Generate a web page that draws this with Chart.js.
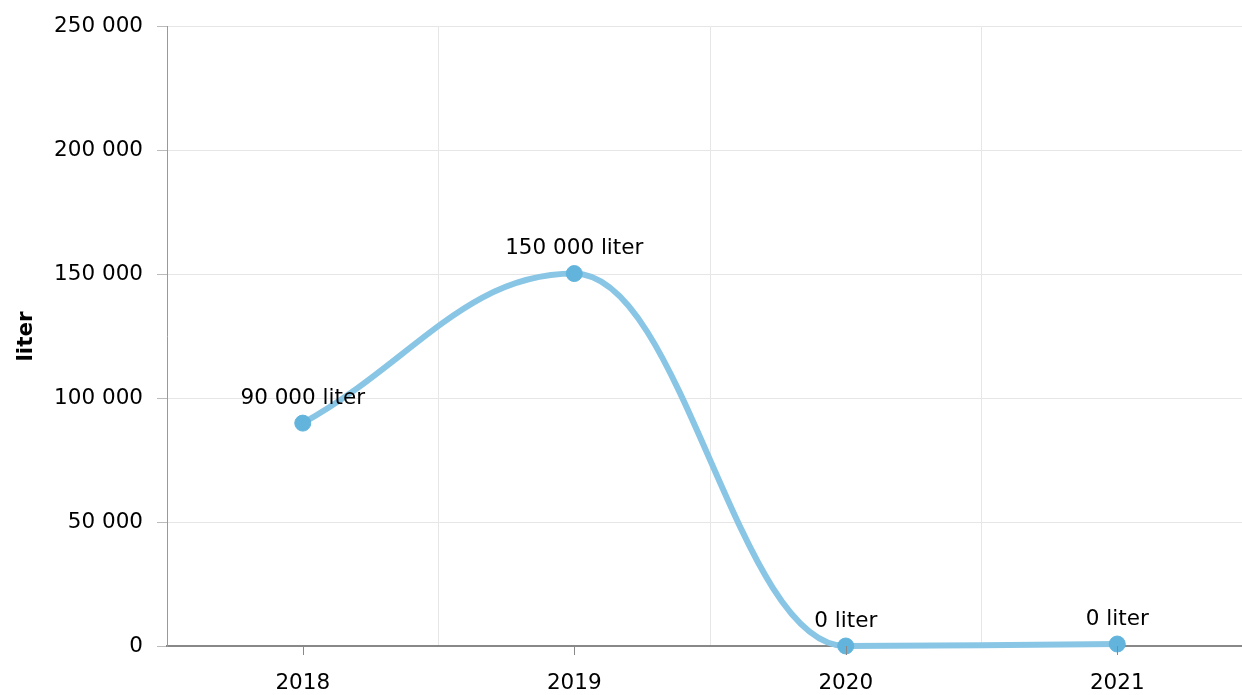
<!DOCTYPE html>
<html>
<head>
<meta charset="utf-8">
<script src="https://cdn.jsdelivr.net/npm/chart.js@4"></script>
<style>
  html, body { margin: 0; padding: 0; background: #fff; overflow: hidden; }
  #wrap { width: 1262px; height: 695px; }
  #chart { display: block; width: 1262px; height: 695px; max-width: none; }
</style>
</head>
<body>
<div id="wrap"><canvas id="chart" width="1262" height="695"></canvas></div>
<script>
const years = ['2018', '2019', '2020', '2021'];
const liters = [90000, 150400, 0, 800];
const yTicks = [0, 50000, 100000, 150000, 200000, 250000];
const unit = 'liter';

const FONT = '"DejaVu Sans", Verdana, sans-serif';
const FS = 21.5;

function spaced(n) {
  return String(n).replace(/\B(?=(\d{3})+(?!\d))/g, ' ');
}

// value labels above each point
const pointLabels = {
  id: 'pointLabels',
  afterDatasetsDraw(chart) {
    const ctx = chart.ctx;
    const meta = chart.getDatasetMeta(0);
    ctx.save();
    ctx.font = FS + 'px ' + FONT;
    ctx.fillStyle = '#000';
    ctx.textAlign = 'center';
    ctx.textBaseline = 'middle';
    meta.data.forEach((pt, i) => {
      const v = Math.floor(liters[i] / 1000) * 1000;
      ctx.fillText(spaced(v) + ' ' + unit, pt.x, pt.y - 25);
    });
    ctx.restore();
  }
};

// short tick marks under the x axis at each category centre
const centreTicks = {
  id: 'centreTicks',
  afterDraw(chart) {
    const x = chart.scales.x;
    const ctx = chart.ctx;
    ctx.save();
    ctx.strokeStyle = '#888';
    ctx.lineWidth = 1;
    years.forEach((_, i) => {
      const px = Math.round(x.getPixelForValue(i)) + 0.5;
      ctx.beginPath();
      ctx.moveTo(px, x.top);
      ctx.lineTo(px, x.top + 9);
      ctx.stroke();
    });
    ctx.restore();
  }
};

// spline control points: tangent through each point, no false extremes
const smoothSpline = {
  id: 'smoothSpline',
  beforeDatasetDraw(chart, args) {
    const meta = args.meta;
    const line = meta.dataset;
    line.updateControlPoints(chart.chartArea, 'x');
    const pts = meta.data;
    const n = pts.length;
    pts.forEach((p, i) => {
      const a = pts[i - 1], b = pts[i + 1];
      if (i === 0) {
        p.cp1x = p.x; p.cp1y = p.y;
        p.cp2x = p.x + 0.4 * (b.x - p.x); p.cp2y = p.y + 0.4 * (b.y - p.y);
        return;
      }
      if (i === n - 1) {
        p.cp2x = p.x; p.cp2y = p.y;
        p.cp1x = p.x - 0.4 * (p.x - a.x); p.cp1y = p.y - 0.4 * (p.y - a.y);
        return;
      }
      const lx = (1.5 * p.x + a.x) / 2.5;
      let ly = (1.5 * p.y + a.y) / 2.5;
      const rx = (1.5 * p.x + b.x) / 2.5;
      let ry = (1.5 * p.y + b.y) / 2.5;
      const corr = rx !== lx ? ((ry - ly) * (rx - p.x)) / (rx - lx) + p.y - ry : 0;
      ly += corr; ry += corr;
      if (ly > a.y && ly > p.y) { ly = Math.max(a.y, p.y); ry = 2 * p.y - ly; }
      else if (ly < a.y && ly < p.y) { ly = Math.min(a.y, p.y); ry = 2 * p.y - ly; }
      if (ry > b.y && ry > p.y) { ry = Math.max(b.y, p.y); ly = 2 * p.y - ry; }
      else if (ry < b.y && ry < p.y) { ry = Math.min(b.y, p.y); ly = 2 * p.y - ry; }
      p.cp1x = lx; p.cp1y = ly;
      p.cp2x = rx; p.cp2y = ry;
    });
    line._path = undefined;
  }
};

new Chart(document.getElementById('chart'), {
  type: 'line',
  data: {
    labels: years,
    datasets: [{
      data: liters,
      borderColor: '#89c6e5',
      borderWidth: 6,
      tension: 0.4,
      pointRadius: 8,
      pointBackgroundColor: '#62b4dc',
      pointBorderColor: '#62b4dc',
      pointBorderWidth: 1,
      fill: false,
      clip: false
    }]
  },
  options: {
    responsive: false,
    animation: false,
    layout: { padding: { top: 23, left: 0, right: 0, bottom: 0 } },
    plugins: { legend: { display: false }, tooltip: { enabled: false } },
    scales: {
      x: {
        type: 'category',
        offset: true,
        grid: { offset: true, color: '#e6e6e6', drawTicks: false },
        border: { color: '#888', width: 2 },
        ticks: { color: '#000', font: { family: FONT, size: FS }, padding: 25, maxRotation: 0 },
        afterFit(scale) { scale.height = 49; }
      },
      y: {
        min: 0,
        max: 250000,
        afterBuildTicks(scale) { scale.ticks = yTicks.map(v => ({ value: v })); },
        grid: { color: '#e6e6e6', tickLength: 10, tickColor: '#bbb' },
        border: { color: '#999', width: 1 },
        ticks: {
          color: '#000',
          font: { family: FONT, size: FS },
          padding: 14,
          callback: v => spaced(v)
        },
        title: {
          display: true,
          text: unit,
          color: '#000',
          font: { family: FONT, size: FS, weight: 'bold' },
          padding: { top: 14, bottom: 0 }
        },
        afterFit(scale) { scale.width = 167; }
      }
    }
  },
  plugins: [smoothSpline, pointLabels, centreTicks]
});
</script>
</body>
</html>
